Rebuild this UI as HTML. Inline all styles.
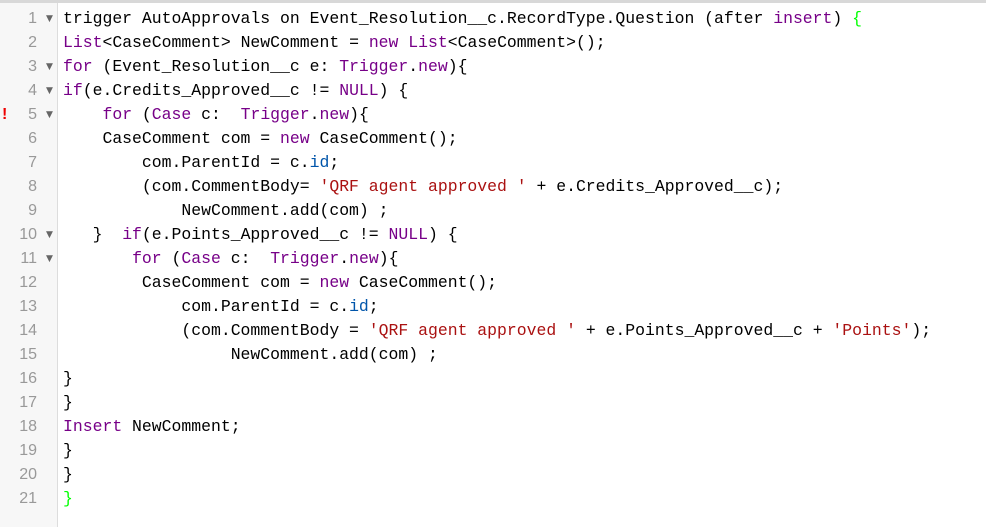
<!DOCTYPE html>
<html><head><meta charset="utf-8"><style>
html,body{margin:0;padding:0;background:#fff;width:986px;height:527px;overflow:hidden;}
.top{position:absolute;left:0;top:0;width:986px;height:3px;background:#d8d8d8;}
.gut{position:absolute;left:0;top:3px;width:57px;height:524px;background:#f7f7f7;border-right:1px solid #ddd;}
.ln{position:absolute;left:0;width:37px;text-align:right;font:16px "Liberation Sans",sans-serif;color:#999;height:24px;line-height:24px;}
.ar{position:absolute;left:46px;font:9px "DejaVu Sans",sans-serif;color:#666;height:24px;line-height:24px;}
.ex{position:absolute;left:2px;color:#e00;font:bold 16px "Liberation Sans",sans-serif;height:24px;line-height:24px;}
.code{position:absolute;left:63px;top:7px;font-family:"Liberation Mono",monospace;font-size:16.45px;line-height:24px;color:#000;white-space:pre;}
.k{color:#708;} .s{color:#a11;} .b{color:#05a;} .g{color:#0f0;}
</style></head><body>
<div class="top"></div>
<div class="gut"></div>
<div class="ln" style="top:7px">1</div><div class="ar" style="top:7px">▼</div>
<div class="ln" style="top:31px">2</div>
<div class="ln" style="top:55px">3</div><div class="ar" style="top:55px">▼</div>
<div class="ln" style="top:79px">4</div><div class="ar" style="top:79px">▼</div>
<div class="ex" style="top:103px">!</div><div class="ln" style="top:103px">5</div><div class="ar" style="top:103px">▼</div>
<div class="ln" style="top:127px">6</div>
<div class="ln" style="top:151px">7</div>
<div class="ln" style="top:175px">8</div>
<div class="ln" style="top:199px">9</div>
<div class="ln" style="top:223px">10</div><div class="ar" style="top:223px">▼</div>
<div class="ln" style="top:247px">11</div><div class="ar" style="top:247px">▼</div>
<div class="ln" style="top:271px">12</div>
<div class="ln" style="top:295px">13</div>
<div class="ln" style="top:319px">14</div>
<div class="ln" style="top:343px">15</div>
<div class="ln" style="top:367px">16</div>
<div class="ln" style="top:391px">17</div>
<div class="ln" style="top:415px">18</div>
<div class="ln" style="top:439px">19</div>
<div class="ln" style="top:463px">20</div>
<div class="ln" style="top:487px">21</div>
<div class="code">trigger AutoApprovals on Event_Resolution__c.RecordType.Question (after <span class="k">insert</span>) <span class="g">{</span>
<span class="k">List</span>&lt;CaseComment&gt; NewComment = <span class="k">new</span> <span class="k">List</span>&lt;CaseComment&gt;();
<span class="k">for</span> (Event_Resolution__c e: <span class="k">Trigger</span>.<span class="k">new</span>){
<span class="k">if</span>(e.Credits_Approved__c != <span class="k">NULL</span>) {
    <span class="k">for</span> (<span class="k">Case</span> c:  <span class="k">Trigger</span>.<span class="k">new</span>){
    CaseComment com = <span class="k">new</span> CaseComment();
        com.ParentId = c.<span class="b">id</span>;
        (com.CommentBody= <span class="s">'QRF agent approved '</span> + e.Credits_Approved__c);
            NewComment.add(com) ;
   }  <span class="k">if</span>(e.Points_Approved__c != <span class="k">NULL</span>) {
       <span class="k">for</span> (<span class="k">Case</span> c:  <span class="k">Trigger</span>.<span class="k">new</span>){
        CaseComment com = <span class="k">new</span> CaseComment();
            com.ParentId = c.<span class="b">id</span>;
            (com.CommentBody = <span class="s">'QRF agent approved '</span> + e.Points_Approved__c + <span class="s">'Points'</span>);
                 NewComment.add(com) ;
}
}
<span class="k">Insert</span> NewComment;
}
}
<span class="g">}</span></div>
</body></html>
